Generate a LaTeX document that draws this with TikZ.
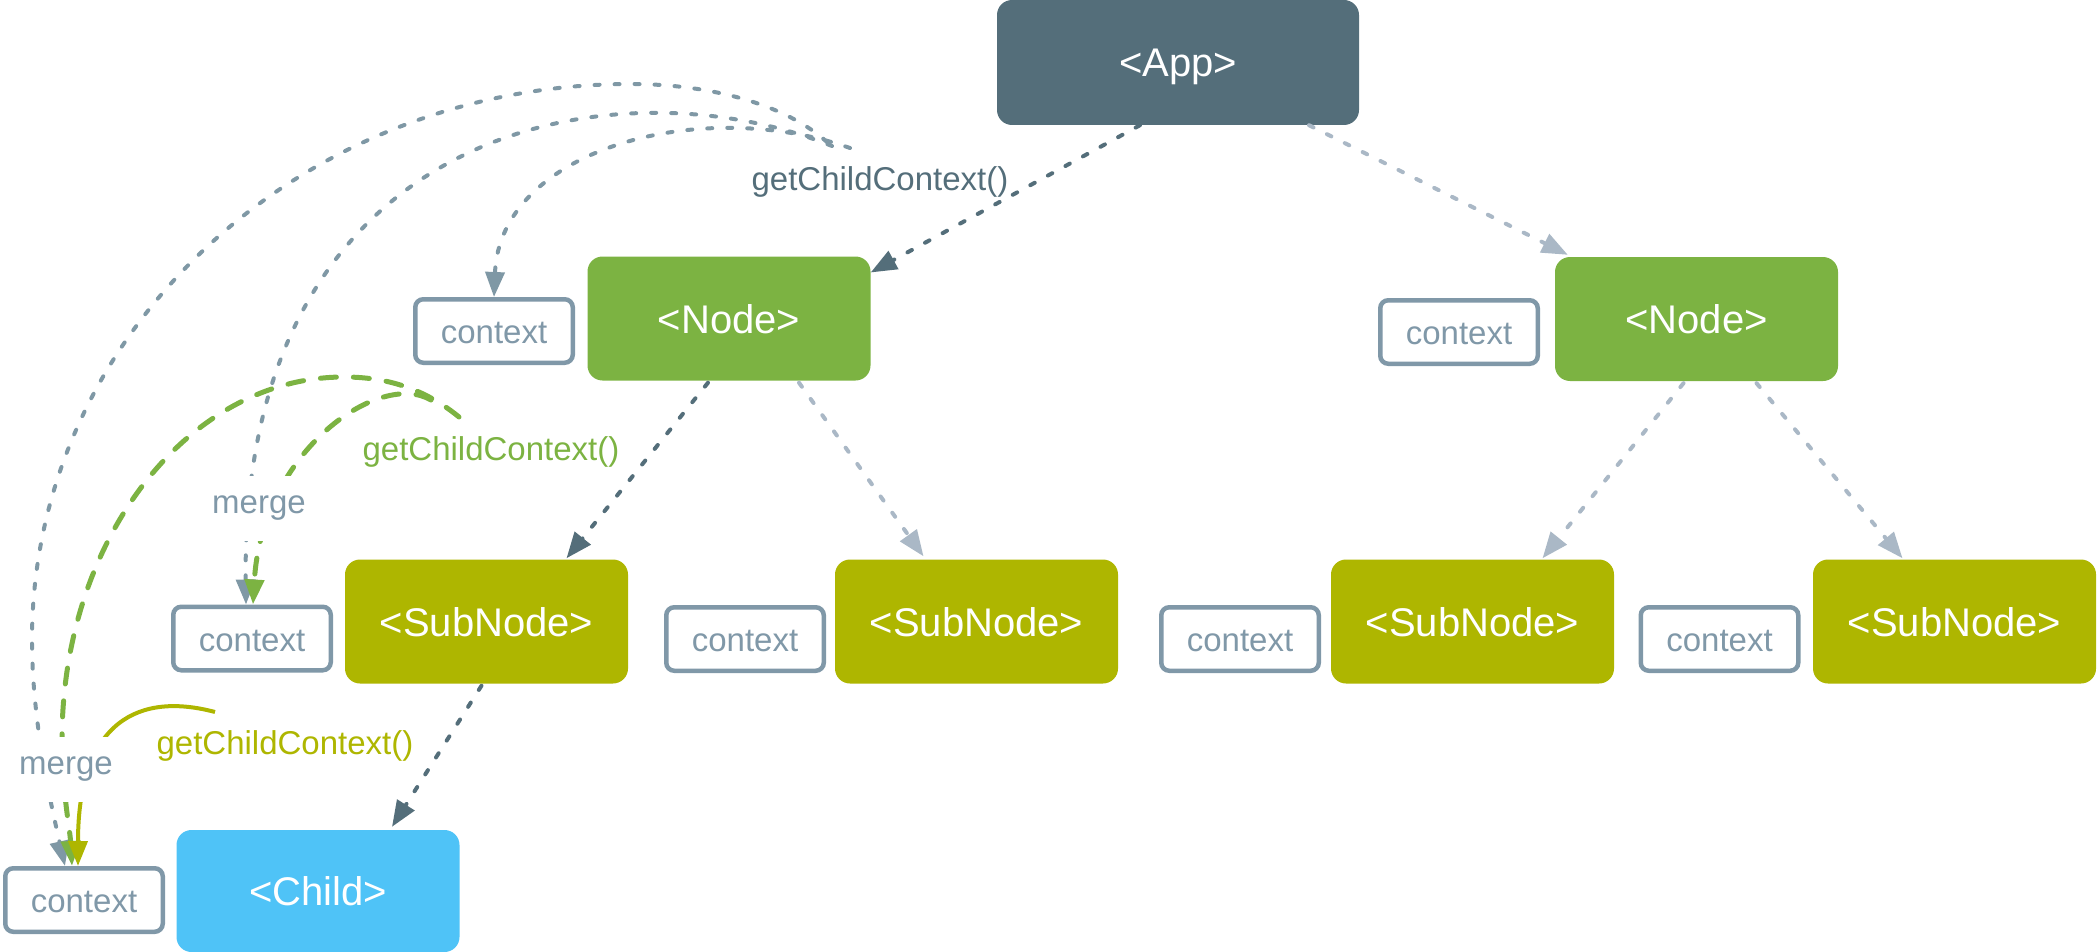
\documentclass[tikz,border=0pt]{standalone}
\usepackage{fontspec}
\setmainfont{Liberation Sans}
\usetikzlibrary{arrows.meta,calc}
\definecolor{appc}{HTML}{546E7A}
\definecolor{nodec}{HTML}{7CB342}
\definecolor{subc}{HTML}{AEB600}
\definecolor{childc}{HTML}{4FC3F7}
\definecolor{ctxc}{HTML}{8098A8}
\definecolor{lightc}{HTML}{AAB8C6}
\definecolor{dotc}{HTML}{7F98A5}
\begin{document}
\begin{tikzpicture}[x=1pt,y=-1pt,
  box/.style={rounded corners=15pt, inner sep=0pt, minimum width=283pt, minimum height=124pt, text=white, text height=29pt, text depth=0pt, font=\fontsize{40}{48}\selectfont},
  ctx/.style={draw=ctxc, line width=4.5pt, rounded corners=8pt, fill=white, minimum width=157.5pt, minimum height=63.5pt, inner sep=0pt, text=ctxc, text height=25pt, text depth=0pt, font=\fontsize{33}{40}\selectfont},
  lbl/.style={inner sep=0pt, font=\fontsize{33}{40}\selectfont},
  mergelbl/.style={fill=white, text=ctxc, inner xsep=14pt, inner ysep=20pt, text height=18pt, text depth=7pt, font=\fontsize{33}{40}\selectfont},
  darrow/.style={draw=appc, line width=4pt, dash pattern=on 5pt off 15pt, line cap=round, -{Triangle[length=26pt,width=20pt]}},
  larrow/.style={darrow, draw=lightc},
  gdot/.style={draw=dotc, line width=4pt, dash pattern=on 5pt off 15pt, line cap=round, -{Triangle[length=25pt,width=19pt]}},
  gdash/.style={draw=nodec, line width=5pt, dash pattern=on 16pt off 17pt, line cap=round, -{Triangle[length=25pt,width=19pt]}},
  osolid/.style={draw=subc, line width=4pt, -{Triangle[length=25pt,width=19pt]}}
]
\useasboundingbox (0,0) rectangle (2098,952);

% main boxes
\node[box, fill=appc, minimum width=362pt, minimum height=125pt] (app) at (1178,62.5) {<App>};
\node[box, fill=nodec] (node1) at (729,318.5) {<Node>};
\node[box, fill=nodec] (node2) at (1696.5,319) {<Node>};
\node[box, fill=subc] (sub1) at (486.5,621.5) {<SubNode>};
\node[box, fill=subc] (sub2) at (976.5,621.5) {<SubNode>};
\node[box, fill=subc] (sub3) at (1472.5,621.5) {<SubNode>};
\node[box, fill=subc] (sub4) at (1954.5,621.5) {<SubNode>};
\node[box, fill=childc, minimum height=122pt] (child) at (318,891) {<Child>};

% context boxes
\node[ctx] (c1) at (494,331) {context};
\node[ctx] (cn2) at (1459,332) {context};
\node[ctx] (c2) at (252,638.5) {context};
\node[ctx] (c3) at (745,639) {context};
\node[ctx] (c4) at (1240,639) {context};
\node[ctx] (c5) at (1719.5,639) {context};
\node[ctx] (cb) at (84,900) {context};

% labels
\node[lbl, text=appc] (lab1) at (880,182) {getChildContext()};
\node[lbl, text=nodec] (lab2) at (491,452) {getChildContext()};
\node[lbl, text=subc] (lab3) at (285,746) {getChildContext()};

% tree arrows
\draw[darrow] ($(app.south)+(-38,0)$) -- (node1.18);
\draw[larrow] ($(app.south)+(131,0)$) -- ($(node2.north west)+(13,-2)$);
\draw[darrow] ($(node1.south)+(-21,2)$) -- ($(sub1.north)+(80,-1)$);
\draw[larrow] ($(node1.south)+(70,2)$) -- ($(sub2.north)+(-53,-3)$);
\draw[larrow] ($(node2.south)+(-13,2)$) -- ($(sub3.north)+(70,-1)$);
\draw[larrow] ($(node2.south)+(60,2)$) -- ($(sub4.north)+(-52,-1)$);
\draw[darrow] ($(sub1.south)+(-5,2)$) -- ($(child.north)+(74,-3)$);

% context flow curves
\coordinate (sA) at (850,148);
\coordinate (sB) at (832,146);
\coordinate (sC) at (827,142);
\coordinate (sGo) at (459,417);
\coordinate (sGi) at (431,400);
\coordinate (sO) at (215,712);

\draw[gdot] (sA) .. controls (700,95) and (500,150) .. (c1.north);
\draw[gdot] (sB) .. controls (620,60) and (240,120) .. ($(c2.north)+(-6,0)$);
\draw[gdot] (sC) .. controls (780,100) and (700,84) .. (631,84)
  .. controls (299,84) and (32,333) .. (32,640)
  .. controls (32,720) and (50,800) .. ($(cb.north)+(-19,0)$);
\draw[gdash] (sGo) .. controls (420,385) and (380,377) .. (344,377)
  .. controls (188,377) and (62,539) .. (62,740)
  .. controls (62,790) and (70,830) .. ($(cb.north)+(-12,0)$);
\draw[gdash] (sGi) .. controls (380,370) and (262,450) .. ($(c2.north)+(1,0)$);
\draw[osolid] (sO) .. controls (140,692) and (78,720) .. ($(cb.north)+(-6,0)$);

% merge labels
\node[mergelbl] (m1) at (259,508) {merge};
\node[mergelbl] (m2) at (66,769) {merge};
\end{tikzpicture}
\end{document}
